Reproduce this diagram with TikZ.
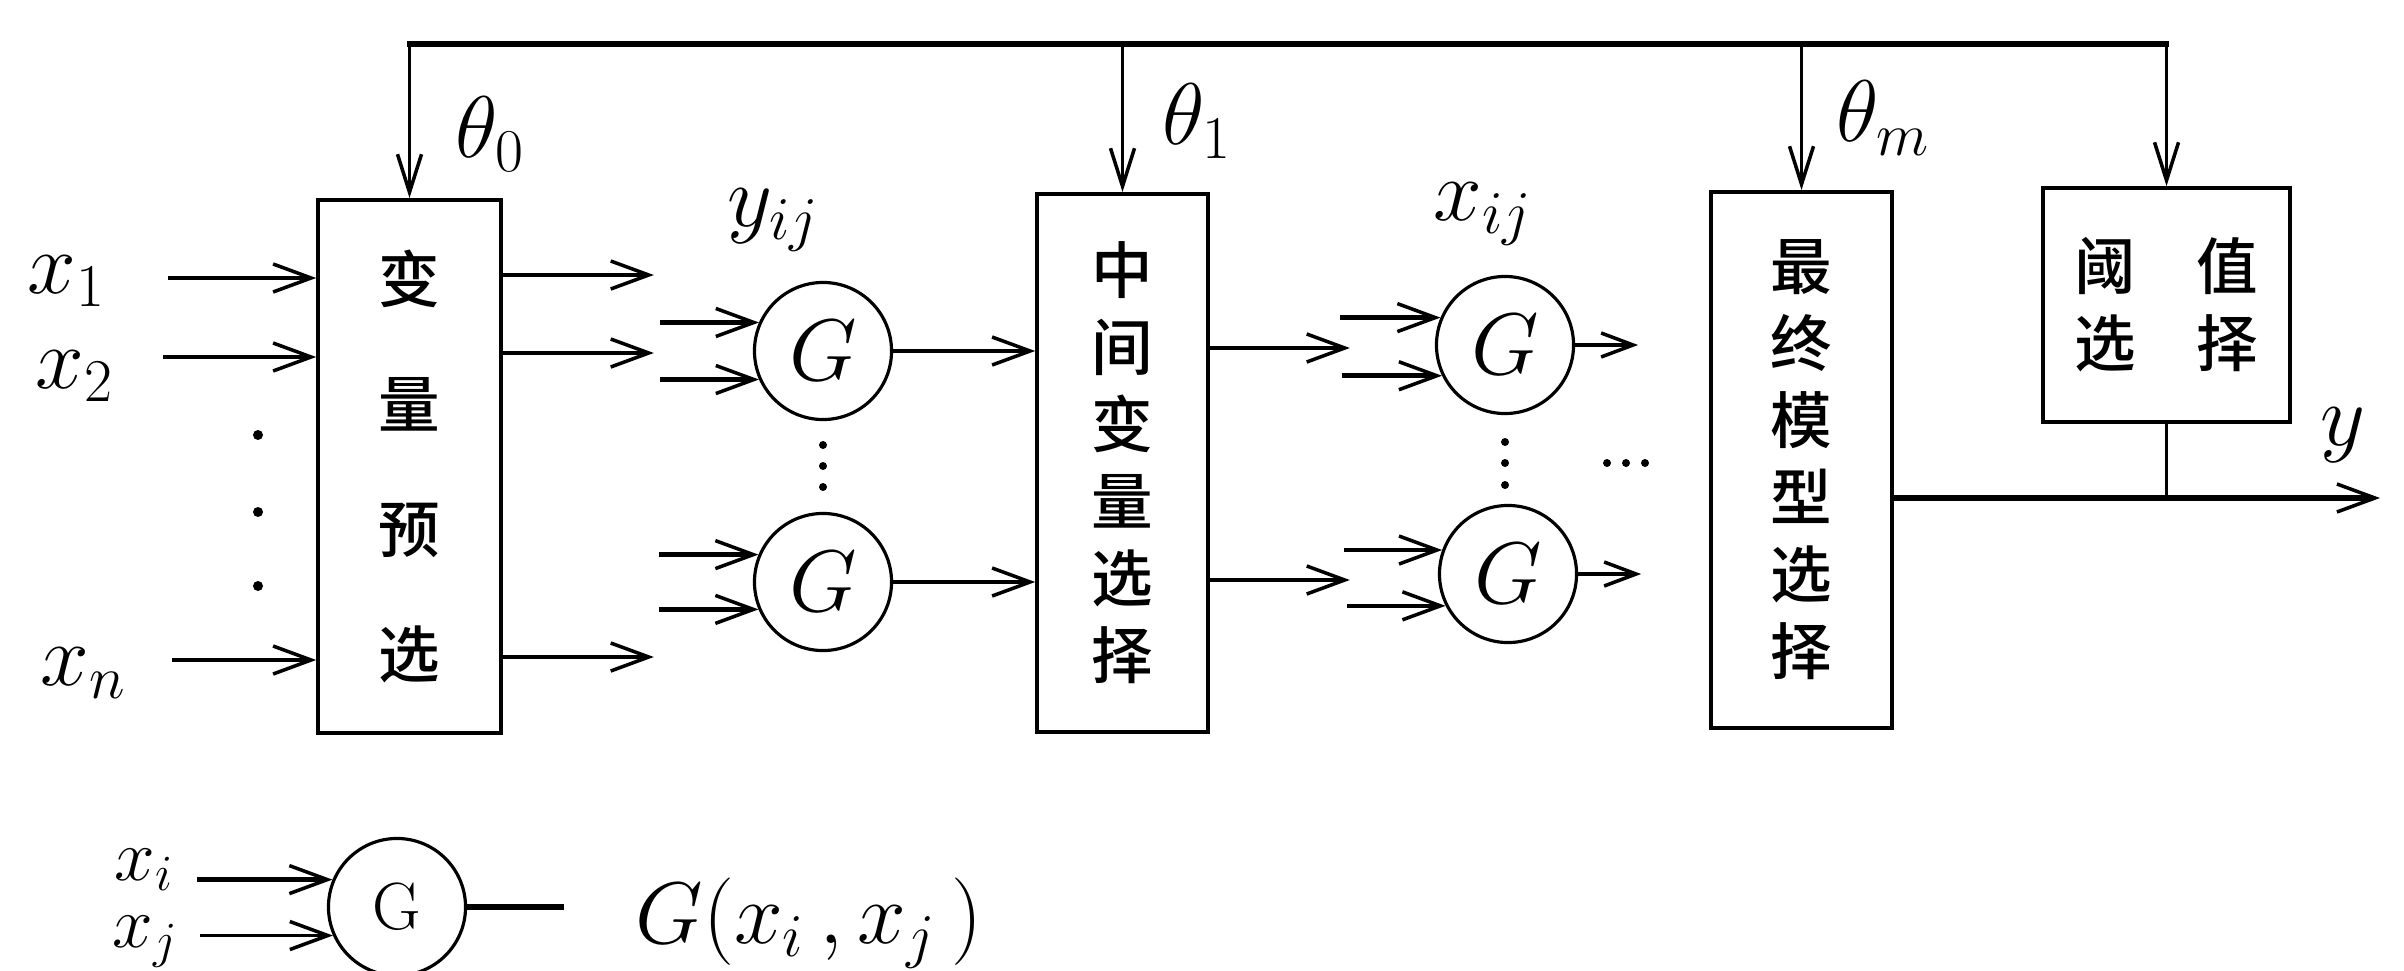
\documentclass[tikz,border=0pt]{standalone}
\usepackage{fontspec}
\newfontfamily\cjk{Noto Sans CJK SC}[UprightFont={* Medium}]
\usetikzlibrary{arrows.meta,calc}
\begin{document}
\begin{tikzpicture}[x=0.01cm,y=-0.01cm,
  box/.style={draw,line width=1pt,inner sep=0pt,align=center,
    font=\cjk\fontsize{17.5pt}{0.77cm}\selectfont},
  gnode/.style={draw,circle,line width=0.9pt,minimum size=1.37cm,inner sep=0pt,
    font=\fontsize{25pt}{30pt}\selectfont},
  lab/.style={inner sep=0pt,anchor=base west,font=\fontsize{25pt}{30pt}\selectfont},
  arr/.style={line width=1.3pt,-{Straight Barb[length=3.8mm,width=2.8mm,line width=1pt]}},
  arrs/.style={line width=1.1pt,-{Straight Barb[length=3.2mm,width=2.4mm,line width=1pt]}},
  drop/.style={line width=1pt,-{Straight Barb[length=3.8mm,width=2.4mm,line width=1pt]}},
  topline/.style={line width=1.6pt,line cap=rect},
  dotm/.style={fill=black}]
\useasboundingbox (0,0) rectangle (2404,970);

% boxes
\node[box,minimum width=1.83cm,minimum height=5.33cm,
  font=\cjk\fontsize{17.5pt}{1.25cm}\selectfont] (B1) at (409.5,466.5) {变\\量\\预\\选};
\node[box,minimum width=1.71cm,minimum height=5.38cm] (B2) at (1122.5,463) {中\\间\\变\\量\\选\\择};
\node[box,minimum width=1.81cm,minimum height=5.36cm] (B3) at (1801.5,460) {最\\终\\模\\型\\选\\择};
\node[box,minimum width=2.47cm,minimum height=2.34cm] (B4) at (2166.5,305) {阈\hspace{0.6cm}值\\选\hspace{0.6cm}择};

% G nodes
\node[gnode] (C1) at (823,351) {$G$};
\node[gnode] (C2) at (823,582) {$G$};
\node[gnode] (C3) at (1505,345) {$G$};
\node[gnode] (C4) at (1508,574) {$G$};
\node[gnode,font=\fontsize{19pt}{22pt}\selectfont] (L) at (397,907) {G};

% labels
\node[lab] (lx1) at (27,293) {$x_1$};
\node[lab] (lx2) at (35,388) {$x_2$};
\node[lab] (lxn) at (40,685) {$x_n$};
\node[lab] (lyij) at (727,226) {$y_{ij}$};
\node[lab] (lxij) at (1433,220) {$x_{ij}$};
\node[lab] (t0) at (455,158) {$\theta_0$};
\node[lab] (t1) at (1162,145) {$\theta_1$};
\node[lab] (tm) at (1836,142) {$\theta_m$};
\node[lab] (ly) at (2320,445) {$y$};
\node[lab,font=\fontsize{21pt}{24pt}\selectfont] (lxi) at (114,880) {$x_i$};
\node[lab,font=\fontsize{21pt}{24pt}\selectfont] (lxj) at (112,947) {$x_j$};
\node[lab] (lG) at (635,943) {$G(x_i\,,x_j\,)$};

% feedback line
\coordinate (fb) at (0,44);
\draw[topline] (B1.north |- fb) -- (B4.north |- fb);
\draw[drop] (B1.north |- fb) -- (B1.north);
\draw[drop] (B2.north |- fb) -- (B2.north);
\draw[drop] (B3.north |- fb) -- (B3.north);
\draw[drop] (B4.north |- fb) -- (B4.north);

% inputs
\coordinate (s1) at (168,278);
\coordinate (s2) at (163,357);
\coordinate (sn) at (172,660);
\draw[arr] (s1) -- (B1.west |- s1);
\draw[arr] (s2) -- (B1.west |- s2);
\draw[arr,line width=1pt] (sn) -- (B1.west |- sn);
\fill[dotm] (258,435) circle[radius=0.05cm];
\fill[dotm] (258,512) circle[radius=0.05cm];
\fill[dotm] (258,586) circle[radius=0.05cm];

% box1 outputs
\draw[arr] (B1.east |- 0,275) -- ++(151,0);
\draw[arr] (B1.east |- 0,353) -- ++(151,0);
\draw[arr] (B1.east |- 0,657) -- ++(151,0);

% inputs to first layer
\draw[arr] ([xshift=-0.99cm]C1.156) -- (C1.156);
\draw[arr] ([xshift=-0.99cm]C1.204) -- (C1.204);
\draw[arr] ([xshift=-0.99cm]C2.157) -- (C2.157);
\draw[arr] ([xshift=-0.99cm]C2.203) -- (C2.203);
\fill[dotm] (823,445) circle[radius=0.04cm];
\fill[dotm] (823,466) circle[radius=0.04cm];
\fill[dotm] (823,487) circle[radius=0.04cm];

% first layer to box2
\draw[arr] (C1.east) -- (C1.east -| B2.west);
\draw[arr] (C2.east) -- (C2.east -| B2.west);

% box2 outputs
\draw[arr] (B2.east |- 0,348) -- ++(140,0);
\draw[arr] (B2.east |- 0,580) -- ++(140,0);

% inputs to second layer
\draw[arr] ([xshift=-1.0cm]C3.157) -- (C3.157);
\draw[arr] ([xshift=-1.0cm]C3.206) -- (C3.206);
\draw[arr] ([xshift=-0.98cm]C4.160) -- (C4.160);
\draw[arr] ([xshift=-0.98cm]C4.207) -- (C4.207);
\fill[dotm] (1505,442) circle[radius=0.04cm];
\fill[dotm] (1505,463) circle[radius=0.04cm];
\fill[dotm] (1505,485) circle[radius=0.04cm];

% second layer outputs
\draw[arrs] (C3.east) -- ++(63,0);
\draw[arrs] (C4.east) -- ++(63,0);
\fill[dotm] (1607,463) circle[radius=0.04cm];
\fill[dotm] (1626,463) circle[radius=0.04cm];
\fill[dotm] (1645,463) circle[radius=0.04cm];

% final output
\coordinate (yend) at (2380,498);
\draw[arr,line width=1.6pt] (B3.east |- yend) -- (yend);
\draw[line width=1pt] (B4.south) -- (B4.south |- yend);

% legend
\draw[arr] ([xshift=-1.35cm]L.157) -- (L.157);
\draw[arr,line width=1pt] ([xshift=-1.33cm]L.204) -- (L.204);
\draw[line width=1.6pt] (L.east) -- ++(97,0);
\end{tikzpicture}
\end{document}
